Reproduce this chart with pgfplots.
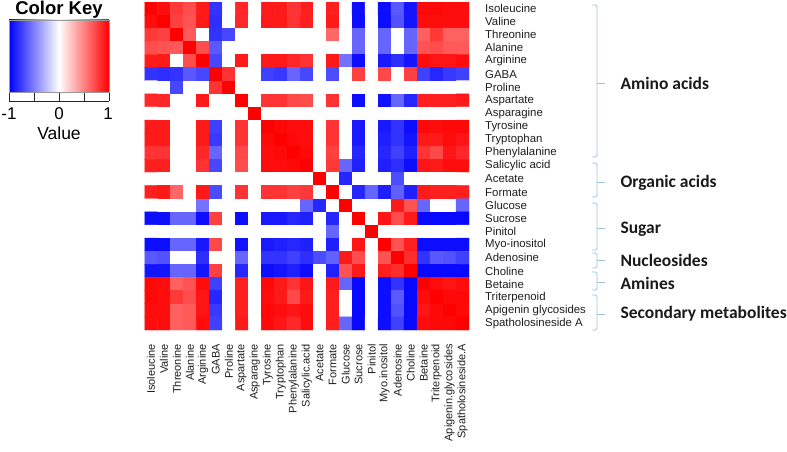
\documentclass[border=0pt]{standalone}
\usepackage{pgfplots}
\pgfplotsset{compat=1.18}
\usepackage{pgfplotstable}
\usepackage{fontspec}
\setmainfont{Liberation Sans}
\newfontfamily\calib{Carlito}

\definecolor{brk}{RGB}{157,195,230}
\definecolor{lab}{RGB}{30,30,30}
\definecolor{keyblue}{RGB}{0,0,255}
\definecolor{keyred}{RGB}{255,0,0}

% correlation matrix, row by row (Isoleucine ... Spatholosineside A)
\pgfplotstableread[row sep=\\]{
c\\
1\\ 0.95\\ 0.78\\ 0.70\\ 0.90\\ -0.80\\ 0\\ 0.85\\ 0\\ 0.90\\ 0.90\\ 0.80\\ 0.88\\ 0\\ 0.88\\ 0\\ -0.95\\ 0\\ -0.95\\ -0.65\\ -0.92\\ 0.97\\ 0.97\\ 0.95\\ 0.95\\
0.95\\ 1\\ 0.75\\ 0.68\\ 0.90\\ -0.82\\ 0\\ 0.85\\ 0\\ 0.90\\ 0.90\\ 0.80\\ 0.88\\ 0\\ 0.90\\ 0\\ -0.95\\ 0\\ -0.95\\ -0.68\\ -0.92\\ 0.95\\ 0.95\\ 0.95\\ 0.95\\
0.78\\ 0.75\\ 1\\ 0.65\\ 0\\ -0.80\\ -0.72\\ 0\\ 0\\ 0\\ 0\\ 0\\ 0\\ 0\\ 0.60\\ 0\\ -0.60\\ 0\\ -0.60\\ 0\\ -0.60\\ 0.62\\ 0.78\\ 0.62\\ 0.62\\
0.70\\ 0.68\\ 0.65\\ 1\\ 0.70\\ -0.65\\ 0\\ 0\\ 0\\ 0\\ 0\\ 0\\ 0\\ 0\\ 0\\ 0\\ -0.60\\ 0\\ -0.60\\ 0\\ -0.60\\ 0.68\\ 0.70\\ 0.65\\ 0.65\\
0.90\\ 0.90\\ 0\\ 0.70\\ 1\\ -0.72\\ 0\\ 0.90\\ 0\\ 0.90\\ 0.90\\ 0.85\\ 0.80\\ 0\\ 0.90\\ -0.55\\ -0.95\\ 0\\ -0.90\\ -0.82\\ -0.92\\ 0.95\\ 0.92\\ 0.92\\ 0.95\\
-0.80\\ -0.82\\ -0.80\\ -0.65\\ -0.72\\ 1\\ 0.80\\ 0\\ 0\\ -0.75\\ -0.78\\ -0.60\\ -0.72\\ 0\\ -0.70\\ 0\\ 0.75\\ 0\\ 0.72\\ 0\\ 0.75\\ -0.75\\ -0.85\\ -0.78\\ -0.75\\
0\\ 0\\ -0.72\\ 0\\ 0\\ 0.80\\ 1\\ 0\\ 0\\ 0\\ 0\\ 0\\ 0\\ 0\\ 0\\ 0\\ 0\\ 0\\ 0\\ 0\\ 0\\ 0\\ 0\\ 0\\ 0\\
0.85\\ 0.85\\ 0\\ 0\\ 0.90\\ 0\\ 0\\ 1\\ 0\\ 0.80\\ 0.80\\ 0.72\\ 0.70\\ 0\\ 0.80\\ 0\\ -0.95\\ 0\\ -0.93\\ -0.60\\ -0.85\\ 0.88\\ 0.88\\ 0.88\\ 0.90\\
0\\ 0\\ 0\\ 0\\ 0\\ 0\\ 0\\ 0\\ 1\\ 0\\ 0\\ 0\\ 0\\ 0\\ 0\\ 0\\ 0\\ 0\\ 0\\ 0\\ 0\\ 0\\ 0\\ 0\\ 0\\
0.90\\ 0.90\\ 0\\ 0\\ 0.90\\ -0.75\\ 0\\ 0.80\\ 0\\ 1\\ 0.97\\ 0.95\\ 0.95\\ 0\\ 0.80\\ 0\\ -0.90\\ 0\\ -0.90\\ -0.80\\ -0.95\\ 0.97\\ 0.95\\ 0.97\\ 0.97\\
0.90\\ 0.90\\ 0\\ 0\\ 0.90\\ -0.78\\ 0\\ 0.80\\ 0\\ 0.97\\ 1\\ 0.97\\ 0.95\\ 0\\ 0.80\\ 0\\ -0.90\\ 0\\ -0.88\\ -0.80\\ -0.92\\ 0.90\\ 0.90\\ 0.95\\ 0.92\\
0.80\\ 0.80\\ 0\\ 0\\ 0.85\\ -0.60\\ 0\\ 0.72\\ 0\\ 0.95\\ 0.97\\ 1\\ 0.97\\ 0\\ 0.75\\ 0\\ -0.85\\ 0\\ -0.85\\ -0.75\\ -0.88\\ 0.80\\ 0.72\\ 0.92\\ 0.85\\
0.88\\ 0.88\\ 0\\ 0\\ 0.80\\ -0.72\\ 0\\ 0.70\\ 0\\ 0.95\\ 0.95\\ 0.97\\ 1\\ 0\\ 0.78\\ -0.60\\ -0.88\\ 0\\ -0.88\\ -0.82\\ -0.95\\ 0.92\\ 0.90\\ 0.95\\ 0.95\\
0\\ 0\\ 0\\ 0\\ 0\\ 0\\ 0\\ 0\\ 0\\ 0\\ 0\\ 0\\ 0\\ 1\\ 0\\ -0.85\\ 0\\ 0\\ 0\\ -0.70\\ 0\\ 0\\ 0\\ 0\\ 0\\
0.88\\ 0.90\\ 0.60\\ 0\\ 0.90\\ -0.70\\ 0\\ 0.80\\ 0\\ 0.80\\ 0.80\\ 0.75\\ 0.78\\ 0\\ 1\\ 0\\ -0.85\\ -0.60\\ -0.88\\ -0.62\\ -0.88\\ 0.90\\ 0.88\\ 0.88\\ 0.88\\
0\\ 0\\ 0\\ 0\\ -0.55\\ 0\\ 0\\ 0\\ 0\\ 0\\ 0\\ 0\\ -0.60\\ -0.85\\ 0\\ 1\\ 0\\ 0\\ 0\\ 0.90\\ 0.68\\ -0.60\\ 0\\ 0\\ -0.60\\
-0.95\\ -0.95\\ -0.60\\ -0.60\\ -0.95\\ 0.75\\ 0\\ -0.95\\ 0\\ -0.90\\ -0.90\\ -0.85\\ -0.88\\ 0\\ -0.85\\ 0\\ 1\\ 0\\ 0.92\\ 0.70\\ 0.90\\ -0.97\\ -0.97\\ -0.97\\ -0.97\\
0\\ 0\\ 0\\ 0\\ 0\\ 0\\ 0\\ 0\\ 0\\ 0\\ 0\\ 0\\ 0\\ 0\\ -0.60\\ 0\\ 0\\ 1\\ 0\\ 0\\ 0\\ 0\\ 0\\ 0\\ 0\\
-0.95\\ -0.95\\ -0.60\\ -0.60\\ -0.90\\ 0.72\\ 0\\ -0.93\\ 0\\ -0.90\\ -0.88\\ -0.85\\ -0.88\\ 0\\ -0.88\\ 0\\ 0.92\\ 0\\ 1\\ 0.68\\ 0.88\\ -0.95\\ -0.95\\ -0.95\\ -0.95\\
-0.65\\ -0.68\\ 0\\ 0\\ -0.82\\ 0\\ 0\\ -0.60\\ 0\\ -0.80\\ -0.80\\ -0.75\\ -0.82\\ -0.70\\ -0.62\\ 0.90\\ 0.70\\ 0\\ 0.68\\ 1\\ 0.82\\ -0.80\\ -0.65\\ -0.68\\ -0.75\\
-0.92\\ -0.92\\ -0.60\\ -0.60\\ -0.92\\ 0.75\\ 0\\ -0.85\\ 0\\ -0.95\\ -0.92\\ -0.88\\ -0.95\\ 0\\ -0.88\\ 0.68\\ 0.90\\ 0\\ 0.88\\ 0.82\\ 1\\ -0.97\\ -0.97\\ -0.97\\ -0.97\\
0.97\\ 0.95\\ 0.62\\ 0.68\\ 0.95\\ -0.75\\ 0\\ 0.88\\ 0\\ 0.97\\ 0.90\\ 0.80\\ 0.92\\ 0\\ 0.90\\ -0.60\\ -0.97\\ 0\\ -0.95\\ -0.80\\ -0.97\\ 1\\ 0.95\\ 0.92\\ 0.95\\
0.97\\ 0.95\\ 0.78\\ 0.70\\ 0.92\\ -0.85\\ 0\\ 0.88\\ 0\\ 0.95\\ 0.90\\ 0.72\\ 0.90\\ 0\\ 0.88\\ 0\\ -0.97\\ 0\\ -0.95\\ -0.65\\ -0.97\\ 0.95\\ 1\\ 0.97\\ 0.97\\
0.95\\ 0.95\\ 0.62\\ 0.65\\ 0.92\\ -0.78\\ 0\\ 0.88\\ 0\\ 0.97\\ 0.95\\ 0.92\\ 0.95\\ 0\\ 0.88\\ 0\\ -0.97\\ 0\\ -0.95\\ -0.68\\ -0.97\\ 0.92\\ 0.97\\ 1\\ 0.97\\
0.95\\ 0.95\\ 0.62\\ 0.65\\ 0.95\\ -0.75\\ 0\\ 0.90\\ 0\\ 0.97\\ 0.92\\ 0.85\\ 0.95\\ 0\\ 0.88\\ -0.60\\ -0.97\\ 0\\ -0.95\\ -0.75\\ -0.97\\ 0.95\\ 0.97\\ 0.97\\ 1\\
}\corr

\newcommand\brkt[3]{%
  \draw[brk, line width=0.8pt, rounded corners=1.5pt]
    (592,451-#1) -- (597,451-#1) -- (597,451-#2) -- (592,451-#2);
  \draw[brk, line width=0.8pt] (597,451-#3) -- (605,451-#3);}

\begin{document}
\begin{tikzpicture}[x=1pt,y=1pt]
\useasboundingbox (0,0) rectangle (787,451);
\begin{axis}[
  at={(144.5pt,121pt)}, anchor=south west,
  scale only axis, width=324.5pt, height=328pt,
  xmin=-0.5, xmax=24.5, ymin=-0.5, ymax=24.5,
  axis line style={draw=none},
  major tick length=0pt,
  xtick={0,...,24}, ytick={0,...,24},
  xticklabels={Isoleucine,Valine,Threonine,Alanine,Arginine,GABA,Proline,Aspartate,Asparagine,Tyrosine,Tryptophan,Phenylalanine,Salicylic.acid,Acetate,Formate,Glucose,Sucrose,Pinitol,Myo.inositol,Adenosine,Choline,Betaine,Triterpenoid,Apigenin.glycosides,Spatholosineside.A},
  yticklabels={Spatholosineside A,Apigenin glycosides,Triterpenoid,Betaine,Choline,Adenosine,Myo-inositol,Pinitol,Sucrose,Glucose,Formate,Acetate,Salicylic acid,Phenylalanine,Tryptophan,Tyrosine,Asparagine,Aspartate,Proline,GABA,Arginine,Alanine,Threonine,Valine,Isoleucine},
  yticklabel pos=right,
  xticklabel style={rotate=90, anchor=east, inner sep=0pt, font=\fontsize{11}{11}\selectfont, text=lab},
  yticklabel style={anchor=west, inner sep=0pt, font=\fontsize{11.4}{11.4}\selectfont, text=lab},
  xticklabel shift=14pt, yticklabel shift=16pt,
  colormap={bwr}{rgb255=(0,0,255) rgb255=(255,255,255) rgb255=(255,0,0)},
  point meta min=-1, point meta max=1,
]
\addplot[matrix plot*, mesh/cols=25, point meta=explicit]
  table[x index=0, y index=0,
        x expr={\coordindex-25*floor((\coordindex+0.5)/25)},
        y expr={24-floor((\coordindex+0.5)/25)}, meta=c] {\corr};
\end{axis}

% colour key (blue -> white -> red, -1 .. 1)
\shade[left color=keyblue, right color=keyred, middle color=white] (9,359) rectangle (109,431);
\draw[line width=0.4pt, black!40] (9,359) rectangle (109,431);
\draw[line width=0.7pt, black!85] (9,350) -- (109,350);
\foreach \xx in {9,34,59,84,109} {\draw[line width=0.7pt, black!85] (\xx,350) -- (\xx,358);}
\node[anchor=base, font=\fontsize{17}{17}\selectfont] at (9,332) {-1};
\node[anchor=base, font=\fontsize{17}{17}\selectfont] at (59,332) {0};
\node[anchor=base, font=\fontsize{17}{17}\selectfont] at (108,332) {1};
\node[anchor=base, font=\fontsize{17.5}{17.5}\selectfont] at (59,312) {Value};
\node[anchor=base, font=\bfseries\fontsize{18.5}{18.5}\selectfont] at (59,436) {Color Key};

% group brackets
\brkt{5}{157}{83}
\brkt{163}{197}{182}
\brkt{203}{250}{228}
\brkt{253}{268}{260}
\brkt{272}{290}{282}
\brkt{295}{330}{314}

\begin{scope}[every node/.style={anchor=west, font=\calib\bfseries\fontsize{17.5}{17.5}\selectfont, text=black!90}]
\node at (617,451-83) {Amino acids};
\node at (617,451-183) {Organic acids};
\node at (617,451-229) {Sugar};
\node at (617,451-260) {Nucleosides};
\node at (617,451-283) {Amines};
\node at (617,451-314) {Secondary metabolites};
\end{scope}
\end{tikzpicture}
\end{document}
